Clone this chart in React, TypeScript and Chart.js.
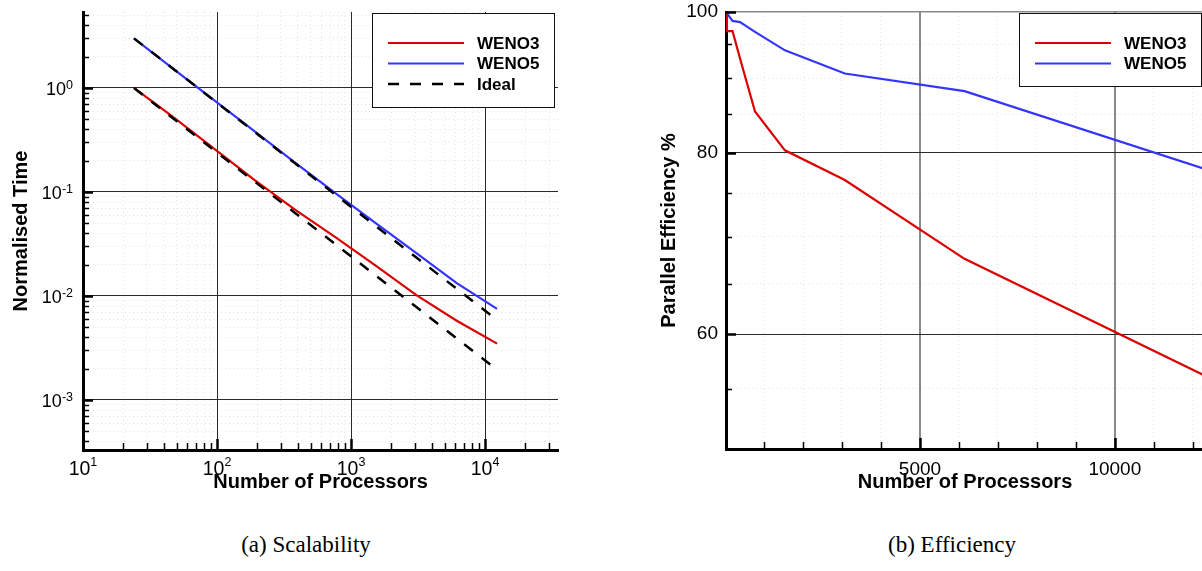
import React, { useEffect, useRef } from 'react';
import { Chart, registerables } from 'chart.js';

Chart.register(...registerables);

const FONT = "'Liberation Sans', Arial, Helvetica, sans-serif";
const RED = 'rgb(218,0,0)';
const BLUE = 'rgb(52,52,255)';

// ---------- data ----------
const processors = [24, 48, 96, 192, 384, 768, 1536, 3072, 6144, 12288];
const weno3Time = [1.0, 0.515, 0.258, 0.129, 0.0673, 0.0366, 0.0195, 0.0102, 0.00578, 0.00348];
const weno5Time = [3.0, 1.503, 0.755, 0.38, 0.1905, 0.0968, 0.0498, 0.0258, 0.0133, 0.00751];
const idealTimeLow = [1, 0.5, 0.25, 0.125, 0.0625, 0.03125, 0.015625, 0.0078125, 0.00390625, 0.001953125];
const idealTimeHigh = [3, 1.5, 0.75, 0.375, 0.1875, 0.09375, 0.046875, 0.0234375, 0.01171875, 0.005859375];
const weno3Eff = [100, 97.0, 97.0, 97.0, 92.9, 85.4, 80.3, 76.6, 67.6, 56.2];
const weno5Eff = [100, 99.8, 99.4, 98.6, 98.4, 96.9, 94.1, 90.7, 88.2, 78.0];

const seriesNames = ['WENO3', 'WENO5', 'Ideal'];

// ---------- ticks ----------
const procDecadeTicks = [10, 100, 1000, 10000];
const procMinorLogTicks = [20, 30, 40, 50, 60, 70, 80, 90, 200, 300, 400, 500, 600, 700, 800, 900,
  2000, 3000, 4000, 5000, 6000, 7000, 8000, 9000, 20000, 30000];
const timeDecadeTicks = [0.001, 0.01, 0.1, 1];
const timeMinorTicks = [0.0004, 0.0005, 0.0006, 0.0007, 0.0008, 0.0009,
  0.002, 0.003, 0.004, 0.005, 0.006, 0.007, 0.008, 0.009,
  0.02, 0.03, 0.04, 0.05, 0.06, 0.07, 0.08, 0.09,
  0.2, 0.3, 0.4, 0.5, 0.6, 0.7, 0.8, 0.9, 2, 3, 4, 5];
const procMajorLinTicks = [5000, 10000];
const procMinorLinTicks = [1000, 2000, 3000, 4000, 6000, 7000, 8000, 9000, 11000, 12000];
const effMajorTicks = [60, 80, 100];
const effMinorTicks = [55, 65, 70, 75, 85, 90, 95];

const toTicks = (major: number[], minor: number[], min: number, max: number) =>
  [...major.map((v) => ({ value: v, major: true })), ...minor.map((v) => ({ value: v, major: false }))]
    .filter((t) => t.value >= min - 1e-12 && t.value <= max + 1e-12)
    .sort((a, b) => a.value - b.value);

const pts = (xs: number[], ys: number[]) => xs.map((x, i) => ({ x, y: ys[i] }));

const fixSize = (dim: 'width' | 'height', size: number) => (s: any) => {
  s[dim] = size;
  s.paddingTop = 0;
  s.paddingBottom = 0;
  s.paddingLeft = 0;
  s.paddingRight = 0;
};

// ---------- decoration plugin (inner ticks, power labels, legend) ----------
type LegendSpec = {
  box: [number, number, number, number];
  rows: number[];
  lineX: [number, number];
  textX: number;
  datasetIdx: number[];
};

function decorPlugin(legend: LegendSpec, powerLabels: boolean) {
  return {
    id: 'decor',
    afterDraw(chart: any) {
      const ctx = chart.ctx as CanvasRenderingContext2D;
      const area = chart.chartArea;
      const xs = chart.scales.x;
      const ys = chart.scales.y;
      ctx.save();
      ctx.strokeStyle = '#000';
      ctx.setLineDash([]);
      for (const t of xs.ticks) {
        const px = Math.round(xs.getPixelForValue(t.value)) + 0.5;
        ctx.lineWidth = t.major ? 2.5 : 1.5;
        ctx.beginPath();
        ctx.moveTo(px, area.bottom);
        ctx.lineTo(px, area.bottom - (t.major ? 11 : 7));
        ctx.stroke();
      }
      for (const t of ys.ticks) {
        const py = Math.round(ys.getPixelForValue(t.value)) + 0.5;
        ctx.lineWidth = t.major ? 2.5 : 1.5;
        ctx.beginPath();
        ctx.moveTo(area.left, py);
        ctx.lineTo(area.left + (t.major ? 10 : 6), py);
        ctx.stroke();
      }
      if (powerLabels) {
        ctx.fillStyle = '#000';
        ctx.textBaseline = 'alphabetic';
        ctx.textAlign = 'left';
        for (const t of xs.ticks) {
          if (!t.major) continue;
          const e = String(Math.round(Math.log10(t.value)));
          const px = xs.getPixelForValue(t.value);
          ctx.font = `19.5px ${FONT}`;
          const wb = ctx.measureText('10').width;
          ctx.font = `12.5px ${FONT}`;
          const we = ctx.measureText(e).width;
          const x0 = px - (wb + we) / 2;
          ctx.font = `19.5px ${FONT}`;
          ctx.fillText('10', x0, 475);
          ctx.font = `12.5px ${FONT}`;
          ctx.fillText(e, x0 + wb, 466);
        }
        for (const t of ys.ticks) {
          if (!t.major) continue;
          const e = String(Math.round(Math.log10(t.value)));
          const py = ys.getPixelForValue(t.value);
          ctx.font = `18px ${FONT}`;
          const wb = ctx.measureText('10').width;
          ctx.font = `12.5px ${FONT}`;
          const we = ctx.measureText(e).width;
          const right = area.left - 10;
          const x0 = right - we - wb;
          ctx.font = `18px ${FONT}`;
          ctx.fillText('10', x0, py + 7);
          ctx.font = `12.5px ${FONT}`;
          ctx.fillText(e, x0 + wb, py + 1);
        }
      }
      // legend
      const [bx1, by1, bx2, by2] = legend.box;
      ctx.fillStyle = '#fff';
      ctx.fillRect(bx1, by1, bx2 - bx1, by2 - by1);
      ctx.lineWidth = 1;
      ctx.strokeStyle = '#111';
      ctx.strokeRect(bx1 + 0.5, by1 + 0.5, bx2 - bx1, by2 - by1);
      legend.datasetIdx.forEach((di, r) => {
        const ds = chart.data.datasets[di];
        const y = legend.rows[r];
        ctx.strokeStyle = ds.borderColor;
        ctx.lineWidth = ds.borderWidth;
        ctx.setLineDash(ds.borderDash || []);
        ctx.beginPath();
        ctx.moveTo(legend.lineX[0], y);
        ctx.lineTo(legend.lineX[1], y);
        ctx.stroke();
        ctx.setLineDash([]);
        ctx.fillStyle = '#000';
        ctx.font = `bold 17px ${FONT}`;
        ctx.textAlign = 'left';
        ctx.textBaseline = 'middle';
        ctx.fillText(ds.label, legend.textX, y + 1);
      });
      ctx.restore();
    },
  };
}

const minorGrid = 'rgba(0,0,0,0.1)';
const borderOpts = {
  display: true,
  color: '#000',
  width: 3,
  dash: (c: any) => (c.tick && !c.tick.major ? [1, 3] : []),
};
const titleFont = { family: FONT, size: 20, weight: 'bold' };

// ---------- chart (a) ----------
function scalabilityConfig(): any {
  return {
    type: 'line',
    data: {
      datasets: [
        { label: seriesNames[2], data: pts(processors, idealTimeLow), borderColor: '#000', borderWidth: 2.5, borderDash: [11, 11], order: 0 },
        { label: seriesNames[2], data: pts(processors, idealTimeHigh), borderColor: '#000', borderWidth: 2.5, borderDash: [11, 11], order: 0 },
        { label: seriesNames[0], data: pts(processors, weno3Time), borderColor: RED, borderWidth: 2.2, order: 1 },
        { label: seriesNames[1], data: pts(processors, weno5Time), borderColor: BLUE, borderWidth: 2.2, order: 1 },
      ],
    },
    options: {
      animation: false,
      responsive: false,
      devicePixelRatio: 1,
      layout: { padding: { top: 12, right: 22, left: 0, bottom: 0 } },
      elements: { point: { radius: 0 }, line: { tension: 0, fill: false } },
      plugins: { legend: { display: false }, tooltip: { enabled: false } },
      scales: {
        x: {
          type: 'logarithmic',
          min: 10,
          max: 35000,
          bounds: 'data',
          afterBuildTicks: (s: any) => { s.ticks = toTicks(procDecadeTicks, procMinorLogTicks, 10, 35000); },
          afterFit: fixSize('height', 50),
          ticks: { display: false, autoSkip: false },
          grid: {
            drawTicks: false,
            color: (c: any) => (c.tick && c.tick.major ? '#2a2a2a' : minorGrid),
            lineWidth: 1,
          },
          border: borderOpts,
          title: {
            display: true,
            text: 'Number of Processors',
            color: '#000',
            font: titleFont,
            padding: { top: 0, bottom: 6 },
          },
        },
        y: {
          type: 'logarithmic',
          min: 0.00033,
          max: 5.38,
          bounds: 'data',
          afterBuildTicks: (s: any) => { s.ticks = toTicks(timeDecadeTicks, timeMinorTicks, 0.00033, 5.38); },
          afterFit: fixSize('width', 83),
          ticks: { display: false, autoSkip: false },
          grid: {
            drawTicks: false,
            color: (c: any) => (c.tick && c.tick.major ? '#2a2a2a' : minorGrid),
            lineWidth: 1,
          },
          border: borderOpts,
          title: {
            display: true,
            text: 'Normalised Time',
            color: '#000',
            font: titleFont,
            padding: { top: 9, bottom: 0 },
          },
        },
      },
    },
    plugins: [
      decorPlugin({ box: [372, 13, 554, 107], rows: [43, 63.5, 84], lineX: [388, 464], textX: 477, datasetIdx: [2, 3, 0] }, true),
    ],
  };
}

// ---------- chart (b) ----------
function efficiencyConfig(): any {
  return {
    type: 'line',
    data: {
      datasets: [
        { label: seriesNames[0], data: pts(processors, weno3Eff), borderColor: RED, borderWidth: 2.2 },
        { label: seriesNames[1], data: pts(processors, weno5Eff), borderColor: BLUE, borderWidth: 2.2 },
      ],
    },
    options: {
      animation: false,
      responsive: false,
      devicePixelRatio: 1,
      layout: { padding: { top: 12, right: 6, left: 0, bottom: 0 } },
      elements: { point: { radius: 0 }, line: { tension: 0, fill: false } },
      plugins: { legend: { display: false }, tooltip: { enabled: false } },
      scales: {
        x: {
          type: 'linear',
          min: 24,
          max: 12288,
          bounds: 'data',
          afterBuildTicks: (s: any) => { s.ticks = toTicks(procMajorLinTicks, procMinorLinTicks, 24, 12288); },
          afterFit: fixSize('height', 51),
          ticks: {
            autoSkip: false,
            maxRotation: 0,
            minRotation: 0,
            padding: 9,
            color: '#000',
            font: { family: FONT, size: 19 },
            callback: (v: any, i: number, ticks: any[]) => (ticks[i].major ? String(v) : ''),
          },
          grid: {
            drawTicks: false,
            color: (c: any) => (c.tick && c.tick.major ? '#8a8a8a' : minorGrid),
            lineWidth: (c: any) => (c.tick && c.tick.major ? 2 : 1),
          },
          border: borderOpts,
          title: {
            display: true,
            text: 'Number of Processors',
            color: '#000',
            font: titleFont,
            padding: { top: 0, bottom: 6 },
          },
        },
        y: {
          type: 'logarithmic',
          min: 50,
          max: 100,
          bounds: 'data',
          afterBuildTicks: (s: any) => { s.ticks = toTicks(effMajorTicks, effMinorTicks, 50, 100); },
          afterFit: fixSize('width', 86),
          ticks: {
            autoSkip: false,
            padding: 8,
            color: '#000',
            font: { family: FONT, size: 19 },
            callback: (v: any, i: number, ticks: any[]) => (ticks[i].major ? String(v) : ''),
          },
          grid: {
            drawTicks: false,
            color: (c: any) => (c.tick && c.tick.major ? (c.tick.value === 100 ? '#8a8a8a' : '#2a2a2a') : minorGrid),
            lineWidth: (c: any) => (c.tick && c.tick.major && c.tick.value === 100 ? 1.5 : 1),
          },
          border: borderOpts,
          title: {
            display: true,
            text: 'Parallel Efficiency %',
            color: '#000',
            font: titleFont,
            padding: { top: 17, bottom: 0 },
          },
        },
      },
    },
    plugins: [
      decorPlugin({ box: [379, 13, 561, 86], rows: [43, 63.5], lineX: [395, 471], textX: 484, datasetIdx: [0, 1] }, false),
    ],
  };
}

function ChartCanvas(props: { make: () => any; left: number; top: number; width: number; height: number }) {
  const ref = useRef<HTMLCanvasElement>(null);
  useEffect(() => {
    if (!ref.current) return;
    const chart = new Chart(ref.current, props.make());
    return () => chart.destroy();
  }, []);
  return (
    <canvas
      ref={ref}
      width={props.width}
      height={props.height}
      style={{ position: 'absolute', left: props.left, top: props.top, width: props.width, height: props.height }}
    />
  );
}

const captionStyle: React.CSSProperties = {
  position: 'absolute',
  width: 240,
  textAlign: 'center',
  fontFamily: "'Liberation Serif', 'Times New Roman', serif",
  fontSize: 23,
  lineHeight: '24px',
  color: '#000',
};

export default function App() {
  return (
    <div style={{ position: 'fixed', left: 0, top: 0, width: 1202, height: 571, overflow: 'hidden', background: '#fff' }}>
      <ChartCanvas make={scalabilityConfig} left={0} top={0} width={580} height={500} />
      <ChartCanvas make={efficiencyConfig} left={640} top={0} width={570} height={500} />
      <div style={{ ...captionStyle, left: 306 - 120, top: 533 }}>(a) Scalability</div>
      <div style={{ ...captionStyle, left: 952 - 120, top: 533 }}>(b) Efficiency</div>
    </div>
  );
}
